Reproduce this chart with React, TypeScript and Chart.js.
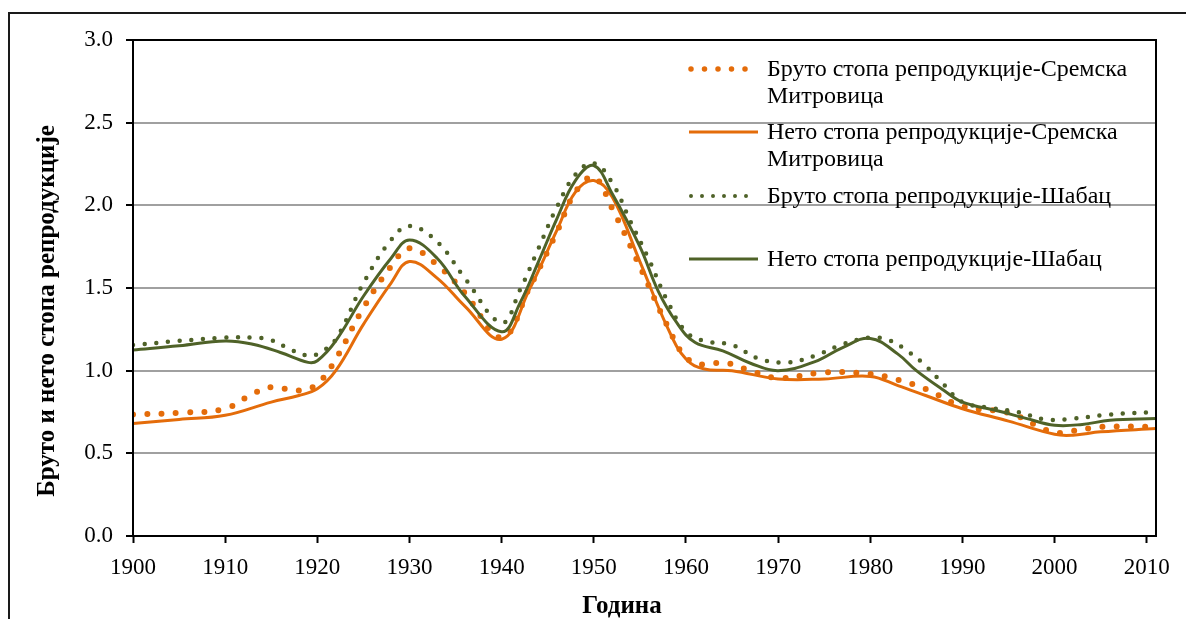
import { useEffect, useRef } from "react";
import { Chart, registerables } from "chart.js";

Chart.register(...registerables);

const FONT = "'Liberation Serif', 'Times New Roman', serif";
const ORANGE = "#E46C0A";
const GREEN = "#4F6228";

const xTitle = "Година";
const yTitle = "Бруто и нето стопа репродукције";

const seriesLabels = [
  "Бруто стопа репродукције-Сремска Митровица",
  "Нето стопа репродукције-Сремска Митровица",
  "Бруто стопа репродукције-Шабац",
  "Нето стопа репродукције-Шабац",
];

const tickYears = [1900, 1910, 1920, 1930, 1940, 1950, 1960, 1970, 1980, 1990, 2000, 2010];

// Бруто – Сремска Митровица
const yearsBrutoSM = [1900, 1905, 1910, 1913, 1915, 1918, 1920, 1922, 1925, 1928, 1930, 1933, 1936, 1940, 1943, 1946, 1948, 1950, 1952, 1955, 1958, 1960, 1962, 1964, 1967, 1970, 1975, 1980, 1983, 1986, 1990, 1995, 1998, 2000, 2002, 2005, 2011];
const brutoSM = [0.735, 0.745, 0.77, 0.86, 0.9, 0.88, 0.92, 1.07, 1.38, 1.63, 1.74, 1.64, 1.47, 1.2, 1.5, 1.84, 2.08, 2.17, 1.98, 1.63, 1.27, 1.08, 1.035, 1.05, 1.0, 0.955, 0.99, 0.98, 0.945, 0.89, 0.785, 0.745, 0.67, 0.625, 0.635, 0.66, 0.66];

// Нето – Сремска Митровица
const yearsNetoSM = [1900, 1905, 1910, 1915, 1918, 1920, 1922, 1925, 1928, 1930, 1933, 1936, 1940, 1943, 1946, 1948, 1950, 1952, 1955, 1958, 1960, 1962, 1965, 1970, 1975, 1980, 1983, 1986, 1990, 1995, 2000, 2002, 2005, 2011];
const netoSM = [0.68, 0.705, 0.73, 0.81, 0.85, 0.89, 1.0, 1.28, 1.53, 1.66, 1.56, 1.39, 1.19, 1.49, 1.85, 2.08, 2.15, 2.05, 1.66, 1.26, 1.07, 1.01, 1.0, 0.95, 0.95, 0.965, 0.91, 0.85, 0.77, 0.695, 0.615, 0.61, 0.63, 0.65];

// Бруто – Шабац
const yearsBrutoSB = [1900, 1905, 1910, 1913, 1915, 1917, 1919, 1920, 1922, 1925, 1928, 1930, 1933, 1936, 1940, 1942, 1944, 1946, 1948, 1950, 1952, 1954, 1956, 1958, 1960, 1962, 1965, 1968, 1971, 1974, 1977, 1980, 1982, 1984, 1986, 1988, 1990, 1993, 1996, 1999, 2002, 2006, 2011];
const brutoSB = [1.155, 1.18, 1.2, 1.2, 1.185, 1.13, 1.09, 1.1, 1.19, 1.53, 1.79, 1.875, 1.78, 1.56, 1.29, 1.49, 1.74, 1.99, 2.185, 2.255, 2.135, 1.9, 1.67, 1.42, 1.235, 1.18, 1.155, 1.07, 1.05, 1.09, 1.16, 1.2, 1.185, 1.12, 1.03, 0.915, 0.81, 0.775, 0.75, 0.705, 0.71, 0.735, 0.75];

// Нето – Шабац
const yearsNetoSB = [1900, 1905, 1910, 1913, 1916, 1919, 1920, 1922, 1925, 1928, 1930, 1933, 1936, 1940, 1942, 1944, 1946, 1948, 1950, 1952, 1955, 1957, 1959, 1961, 1964, 1967, 1970, 1974, 1977, 1980, 1983, 1985, 1988, 1990, 1994, 1997, 2000, 2003, 2006, 2011];
const netoSB = [1.125, 1.15, 1.18, 1.16, 1.11, 1.05, 1.06, 1.18, 1.45, 1.68, 1.79, 1.68, 1.45, 1.235, 1.41, 1.66, 1.92, 2.15, 2.24, 2.07, 1.75, 1.48, 1.29, 1.17, 1.12, 1.045, 1.0, 1.055, 1.14, 1.195, 1.1, 1.0, 0.88, 0.81, 0.755, 0.71, 0.67, 0.675, 0.7, 0.71];

const toPoints = (xs: number[], ys: number[]) => xs.map((x, i) => ({ x, y: ys[i] }));

const styles = [
  { color: ORANGE, width: 6, dash: [0, 14.3] },
  { color: ORANGE, width: 3, dash: [] as number[] },
  { color: GREEN, width: 4.5, dash: [0, 11.7] },
  { color: GREEN, width: 3, dash: [] as number[] },
];

function wrapText(ctx: CanvasRenderingContext2D, text: string, maxW: number): string[] {
  const words = text.split(" ");
  const lines: string[] = [];
  let cur = "";
  for (const w of words) {
    const test = cur ? cur + " " + w : w;
    if (ctx.measureText(test).width > maxW && cur) {
      lines.push(cur);
      cur = w;
    } else cur = test;
  }
  if (cur) lines.push(cur);
  return lines;
}

export default function App() {
  const ref = useRef<HTMLCanvasElement>(null);

  useEffect(() => {
    if (!ref.current) return;

    const decor = {
      id: "decor",
      afterDraw(chart: any) {
        const ctx: CanvasRenderingContext2D = chart.ctx;
        const a = chart.chartArea;
        ctx.save();
        // plot border
        ctx.strokeStyle = "#000";
        ctx.lineWidth = 2;
        ctx.setLineDash([]);
        ctx.strokeRect(a.left, a.top, a.right - a.left, a.bottom - a.top);
        // outer frame
        ctx.strokeStyle = "#1a1a1a";
        ctx.beginPath();
        ctx.moveTo(9, 619);
        ctx.lineTo(9, 13);
        ctx.lineTo(1186, 13);
        ctx.stroke();

        // axis titles
        ctx.fillStyle = "#000";
        ctx.font = `bold 25px ${FONT}`;
        ctx.textAlign = "center";
        ctx.textBaseline = "alphabetic";
        ctx.fillText(xTitle, 622, 613);
        ctx.save();
        ctx.translate(54, 311);
        ctx.rotate(-Math.PI / 2);
        ctx.fillText(yTitle, 0, 0);
        ctx.restore();

        // legend
        const ys = [69, 132, 196, 259];
        ctx.font = `24px ${FONT}`;
        ctx.textAlign = "left";
        ctx.textBaseline = "middle";
        seriesLabels.forEach((label, i) => {
          const s = styles[i];
          const y = ys[i];
          ctx.strokeStyle = s.color;
          ctx.lineWidth = s.dash.length ? s.width - 0.5 : s.width;
          ctx.setLineDash(s.dash.length ? [0, i === 0 ? 13.5 : 11] : []);
          ctx.lineCap = s.dash.length ? "round" : "butt";
          ctx.beginPath();
          if (s.dash.length) {
            ctx.moveTo(691, y);
            ctx.lineTo(750, y);
          } else {
            ctx.moveTo(689, y);
            ctx.lineTo(758, y);
          }
          ctx.stroke();
          ctx.setLineDash([]);
          const lines = wrapText(ctx, label, 380);
          lines.forEach((ln, k) => ctx.fillText(ln, 767, y + 1 + k * 27));
        });
        ctx.restore();
      },
    };

    const mk = (label: string, pts: any[], i: number, order: number) => ({
      label,
      data: pts,
      borderColor: styles[i].color,
      backgroundColor: styles[i].color,
      borderWidth: styles[i].width,
      borderDash: styles[i].dash,
      borderCapStyle: styles[i].dash.length ? "round" : "butt",
      borderJoinStyle: "round",
      pointRadius: 0,
      fill: false,
      tension: 0.4,
      order,
    });

    const chart = new Chart(ref.current, {
      type: "line",
      data: {
        datasets: [
          mk(seriesLabels[0], toPoints(yearsBrutoSM, brutoSM), 0, 3),
          mk(seriesLabels[1], toPoints(yearsNetoSM, netoSM), 1, 2),
          mk(seriesLabels[2], toPoints(yearsBrutoSB, brutoSB), 2, 1),
          mk(seriesLabels[3], toPoints(yearsNetoSB, netoSB), 3, 0),
        ] as any,
      },
      options: {
        responsive: false,
        animation: false,
        devicePixelRatio: 1,
        layout: { padding: { top: 40, right: 30, left: 0, bottom: 0 } },
        plugins: { legend: { display: false }, tooltip: { enabled: false } },
        scales: {
          x: {
            type: "linear",
            min: 1900,
            max: 2011,
            afterBuildTicks: (s: any) => {
              s.ticks = tickYears.map((v) => ({ value: v }));
            },
            afterFit: (s: any) => {
              s.height = 83;
            },
            grid: { drawOnChartArea: false, drawTicks: true, tickLength: 7, tickColor: "#000", tickWidth: 2 },
            border: { display: true, color: "#000", width: 2 },
            ticks: {
              font: { family: FONT, size: 23 },
              color: "#000",
              padding: 11,
              maxRotation: 0,
              autoSkip: false,
              callback: (v: any) => String(v),
            },
          },
          y: {
            min: 0,
            max: 3,
            afterFit: (s: any) => {
              s.width = 133;
            },
            grid: { color: "#A0A0A0", lineWidth: 2, tickColor: "#000", tickLength: 7, tickWidth: 2 },
            border: { display: true, color: "#000", width: 2 },
            ticks: {
              stepSize: 0.5,
              font: { family: FONT, size: 23 },
              color: "#000",
              padding: 13,
              callback: (v: any) => Number(v).toFixed(1),
            },
          },
        },
      } as any,
      plugins: [decor],
    });
    return () => chart.destroy();
  }, []);

  return (
    <div style={{ position: "fixed", left: 0, top: 0, width: 1186, height: 619, background: "#fff", overflow: "hidden" }}>
      <canvas ref={ref} width={1186} height={619} style={{ display: "block", width: 1186, height: 619 }} />
    </div>
  );
}
